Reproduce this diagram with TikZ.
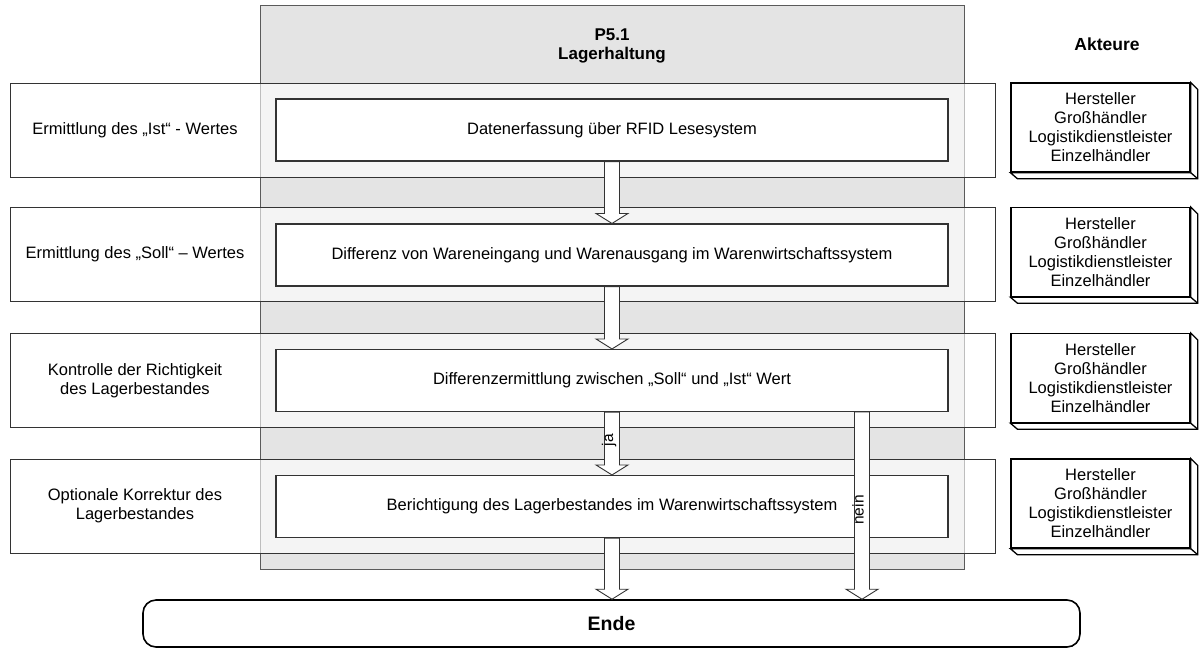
\documentclass[tikz,border=0pt]{standalone}
\usepackage{fontspec}
\setmainfont{Liberation Sans}
\usetikzlibrary{calc}
\definecolor{linec}{HTML}{333333}
\definecolor{colfill}{HTML}{E4E4E4}
\definecolor{colline}{HTML}{5A5A5A}
\begin{document}
\begin{tikzpicture}[x=1pt,y=-1pt,
  every node/.style={font=\fontsize{16.5}{19}\selectfont, inner sep=0pt, align=center},
  processcol/.style={draw=colline, line width=0.9pt, fill=colfill, minimum width=704pt, minimum height=564pt},
  band/.style={draw=linec, line width=0.9pt, fill=white, fill opacity=0.6, text opacity=1, minimum width=985pt, minimum height=94pt},
  stepbox/.style={draw=linec, line width=1.1pt, fill=white, minimum width=672pt, minimum height=62pt},
  actorbox/.style={draw=black, line width=1.3pt, fill=white, minimum width=179pt, minimum height=89pt},
  actorside/.style={draw=black, line width=1.3pt, fill=white, line join=miter},
  endbox/.style={draw=black, line width=1.6pt, fill=white, rounded corners=13pt, minimum width=937pt, minimum height=47pt},
  blockarrow/.style={draw=linec, line width=0.9pt, fill=white, line join=miter,
    to path={let \p1=(\tikztostart), \p2=(\tikztotarget) in
      (\x1-7.5pt,\y1) -- (\x1-7.5pt,\y2+10pt) -- (\x1-16pt,\y2+10pt) -- (\x1,\y2)
      -- (\x1+16pt,\y2+10pt) -- (\x1+7.5pt,\y2+10pt) -- (\x1+7.5pt,\y1) -- cycle}},
  armlabel/.style={rotate=90, font=\fontsize{15.5}{18}\selectfont}
]
\useasboundingbox (0,0) rectangle (1204,649);

% process column with its heading
\node[processcol] (col) at (612,287) {};
\node[font=\fontsize{17}{18.5}\selectfont\bfseries] (title) at (612,46) {P5.1\\Lagerhaltung};
\node[font=\fontsize{17.5}{19}\selectfont\bfseries] (akteure) at (1107,44) {Akteure};

% phase bands across the whole width
\node[band] (b1) at (502.5,130) {};
\node[band] (b2) at (502.5,254.5) {};
\node[band] (b3) at (502.5,380.5) {};
\node[band] (b4) at (502.5,506) {};

% phase names
\node (l1) at (135,130) {Ermittlung des „Ist“ - Wertes};
\node (l2) at (135,254.5) {Ermittlung des „Soll“ – Wertes};
\node (l3) at (135,380.5) {Kontrolle der Richtigkeit\\des Lagerbestandes};
\node (l4) at (135,506) {Optionale Korrektur des\\Lagerbestandes};

% process steps
\node[stepbox] (s1) at (612,130) {Datenerfassung über RFID Lesesystem};
\node[stepbox] (s2) at (612,255) {Differenz von Wareneingang und Warenausgang im Warenwirtschaftssystem};
\node[stepbox] (s3) at (612,380.5) {Differenzermittlung zwischen „Soll“ und „Ist“ Wert};
\node[stepbox] (s4) at (612,506.5) {Berichtigung des Lagerbestandes im Warenwirtschaftssystem};

% actors, drawn as raised boxes
\foreach \n/\yy in {a1/127.5, a2/252, a3/378, a4/503.5} {
  \node[actorbox] (\n) at (1100.5,\yy) {Hersteller\\Großhändler\\Logistikdienstleister\\Einzelhändler};
  \draw[actorside] (\n.north east) -- ++(7,7) -- ($(\n.south east)+(7,6)$) -- ($(\n.south west)+(7,6)$) -- (\n.south west) -- (\n.south east) -- cycle;
  \draw[actorside] (\n.south east) -- ++(7,6);
}

% end of the process
\node[endbox, font=\fontsize{19.5}{22}\selectfont\bfseries] (ende) at (611.5,623.5) {Ende};

% flow arrows
\coordinate (neinstart) at (862,412);
\draw[blockarrow] (s1.south) to (s2.north);
\draw[blockarrow] (s2.south) to (s3.north);
\draw[blockarrow] (s3.south) to (s4.north);
\draw[blockarrow] (s4.south) to (s4.south |- ende.north);
\draw[blockarrow] (neinstart) to (neinstart |- ende.north);
\node[armlabel] (ja) at ($(s3.south)+(-3,28)$) {ja};
\node[armlabel] (nein) at (858,510) {nein};
\end{tikzpicture}
\end{document}
